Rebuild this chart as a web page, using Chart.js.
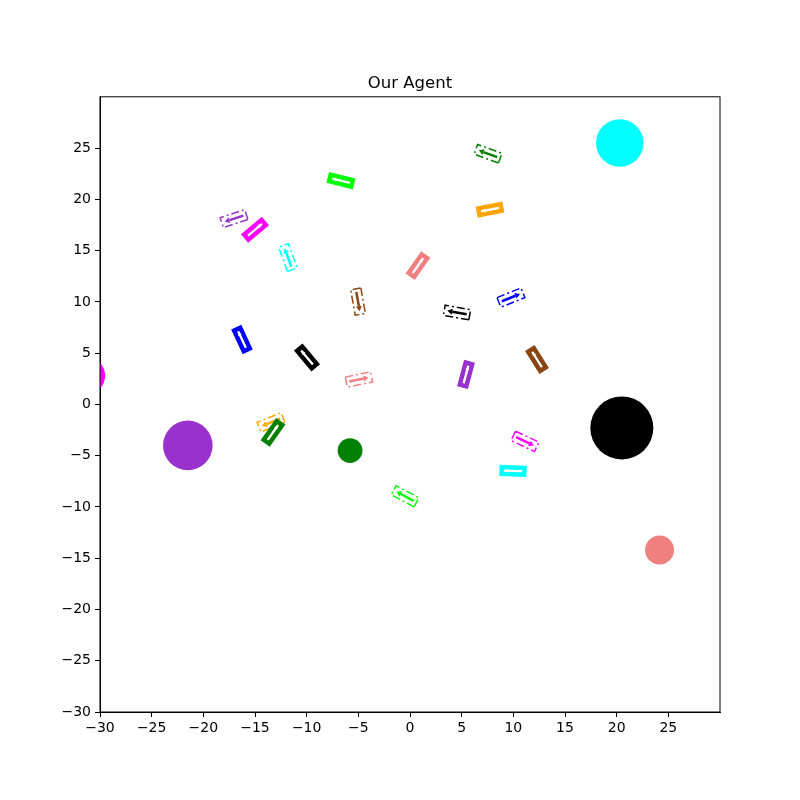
<!DOCTYPE html>
<html>
<head>
<meta charset="utf-8">
<script src="https://cdn.jsdelivr.net/npm/chart.js@4"></script>
<style>
  body { margin: 0; background: #fff; }
</style>
</head>
<body>
<canvas id="chart_1" width="800" height="800"></canvas>
<script>
// axis ticks
const tickValues = [-30, -25, -20, -15, -10, -5, 0, 5, 10, 15, 20, 25];

// obstacles (circles), radius in data units
const obsX = [20.3, 20.5, -21.5, -5.8, 24.15, -31.3];
const obsY = [25.5, -2.3, -4.0, -4.5, -14.2, 2.8];
const obsR = [2.3, 3.05, 2.4, 1.2, 1.4, 1.8];
const obsColor = ['cyan', 'black', 'darkorchid', 'green', 'lightcoral', 'magenta'];

// agents (solid boxes), heading in degrees
const agentX = [-6.68, 7.74, -15.0, 0.77, -16.26, -9.97, 5.42, 12.29, -13.26, 9.97];
const agentY = [21.82, 18.99, 17.04, 13.54, 6.33, 4.58, 2.92, 4.38, -2.73, -6.48];
const agentHeading = [166, 191, 40, 55, 115, 130, 75, 122, 55, 178];
const agentColor = ['lime', 'orange', 'magenta', 'lightcoral', 'blue', 'black', 'darkorchid', 'saddlebrown', 'green', 'cyan'];

// goals (dash-dot boxes)
const goalX = [-17.03, -11.81, 7.55, -5.03, 4.55, 9.77, -4.94, -13.45, 11.13, -0.48];
const goalY = [18.12, 14.32, 24.45, 10.03, 8.96, 10.42, 2.43, -1.75, -3.6, -8.96];
const goalHeading = [198, 110, 160, 280, 170, 22, 12, 202, 335, 152];
const goalColor = ['darkorchid', 'cyan', 'green', 'saddlebrown', 'black', 'blue', 'lightcoral', 'orange', 'magenta', 'lime'];

function arrow(ctx, a, head, hw) {
    ctx.beginPath();
    ctx.moveTo(-a, 0);
    ctx.lineTo(a - head, 0);
    ctx.stroke();
    ctx.beginPath();
    ctx.moveTo(a, 0);
    ctx.lineTo(a - head, -hw);
    ctx.lineTo(a - head, hw);
    ctx.closePath();
    ctx.fill();
}

function drawBox(ctx, px, py, deg, u, color, solid) {
    ctx.save();
    ctx.translate(px, py);
    ctx.rotate(-deg * Math.PI / 180);
    if (solid) {
        const L = 2.2 * u, W = 0.65 * u;
        ctx.strokeStyle = color;
        ctx.lineWidth = 4.5;
        ctx.setLineDash([]);
        ctx.strokeRect(-L / 2, -W / 2, L, W);
        ctx.strokeStyle = 'white';
        ctx.fillStyle = 'white';
        ctx.lineWidth = 1.5;
        arrow(ctx, 0.85 * u, 4, 2);
    } else {
        const L = 2.5 * u, W = 1.0 * u;
        ctx.strokeStyle = color;
        ctx.lineWidth = 1.5;
        ctx.setLineDash([8, 3, 2, 3]);
        ctx.strokeRect(-L / 2, -W / 2, L, W);
        ctx.setLineDash([]);
        ctx.fillStyle = color;
        ctx.lineWidth = 2.5;
        arrow(ctx, 0.95 * u, 5, 3);
    }
    ctx.restore();
}

const boxes = {
    id: 'boxes',
    afterDatasetsDraw(chart) {
        const {ctx, chartArea: a, scales: {x, y}} = chart;
        const u = x.getPixelForValue(1) - x.getPixelForValue(0);
        ctx.save();
        ctx.beginPath();
        ctx.rect(a.left, a.top, a.right - a.left, a.bottom - a.top);
        ctx.clip();
        goalX.forEach((gx, i) => {
            drawBox(ctx, x.getPixelForValue(gx), y.getPixelForValue(goalY[i]), goalHeading[i], u, goalColor[i], false);
        });
        agentX.forEach((ax, i) => {
            drawBox(ctx, x.getPixelForValue(ax), y.getPixelForValue(agentY[i]), agentHeading[i], u, agentColor[i], true);
        });
        ctx.restore();
    }
};

const frame = {
    id: 'frame',
    afterDraw(chart) {
        const {ctx, chartArea: a} = chart;
        ctx.save();
        ctx.strokeStyle = '#000';
        ctx.lineWidth = 1;
        ctx.strokeRect(a.left, a.top, a.right - a.left, a.bottom - a.top);
        ctx.restore();
    }
};

const axisFont = {family: 'DejaVu Sans', size: 14};
const minus = v => String(v).replace('-', '\u2212');

new Chart(document.getElementById("chart_1"), {
    type: 'scatter',
    data: {
        datasets: [{
            data: obsX.map((v, i) => ({x: v, y: obsY[i]})),
            backgroundColor: obsColor,
            borderWidth: 0,
            pointRadius: ctx => {
                const s = ctx.chart.scales.x;
                return Math.abs(s.getPixelForValue(obsR[ctx.dataIndex]) - s.getPixelForValue(0));
            }
        }]
    },
    options: {
        responsive: false,
        animation: false,
        events: [],
        layout: {padding: {top: 74, right: 0, left: 20, bottom: 0}},
        plugins: {
            legend: {display: false},
            tooltip: {enabled: false},
            title: {
                display: true,
                text: 'Our Agent',
                color: '#000',
                font: {family: 'DejaVu Sans', size: 16.5, weight: 'normal'},
                padding: {top: 0, bottom: 3}
            }
        },
        scales: {
            x: {
                type: 'linear',
                min: -30,
                max: 30,
                afterBuildTicks: s => { s.ticks = tickValues.map(v => ({value: v})); },
                afterFit: s => { s.height = 88; },
                ticks: {color: '#000', font: axisFont, maxRotation: 0, autoSkip: false, padding: 3, callback: minus},
                grid: {drawOnChartArea: false, drawTicks: true, tickLength: 5, color: '#000'},
                border: {display: true, color: '#000'}
            },
            y: {
                type: 'linear',
                min: -30,
                max: 30,
                afterBuildTicks: s => { s.ticks = tickValues.map(v => ({value: v})); },
                afterFit: s => { s.width = 80; },
                ticks: {color: '#000', font: axisFont, autoSkip: false, padding: 4, callback: minus},
                grid: {drawOnChartArea: false, drawTicks: true, tickLength: 5, color: '#000'},
                border: {display: true, color: '#000'}
            },
            yRight: {
                type: 'linear',
                position: 'right',
                afterFit: s => { s.width = 80; },
                ticks: {display: false},
                grid: {display: false},
                border: {display: false}
            }
        }
    },
    plugins: [boxes, frame]
});
</script>
</body>
</html>
